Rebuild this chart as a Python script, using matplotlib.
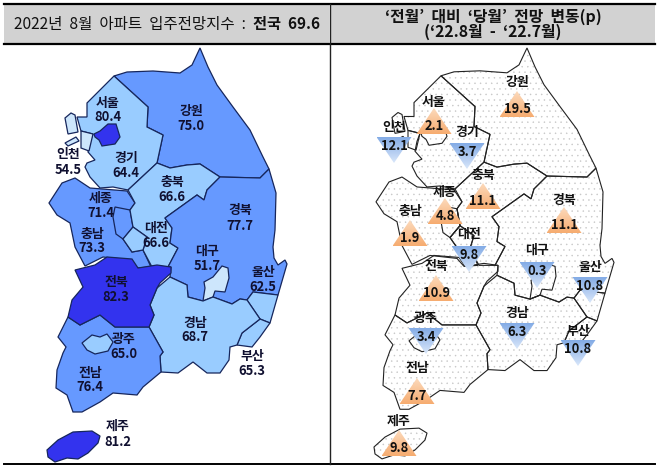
import numpy as np
import matplotlib
import matplotlib.pyplot as plt
from matplotlib.patches import Polygon, Rectangle

matplotlib.use("Agg")

plt.rcParams['font.family'] = ['Noto Sans CJK KR', 'DejaVu Sans']
plt.rcParams['hatch.linewidth'] = 0.3

# region outlines in image pixels
gangwon = [(114, 76), (127, 72), (153, 71), (180, 73), (192, 65), (200, 48), (208, 67), (217, 85), (233, 107),
           (250, 130), (263, 157), (269, 169), (260, 178), (220, 177), (200, 164), (187, 165), (170, 168),
           (157, 163), (163, 135), (147, 127), (148, 107)]
gyeonggi = [(114, 76), (148, 107), (147, 127), (163, 135), (157, 163), (128, 190), (113, 187), (100, 188), (90, 177),
            (85, 167), (87, 163), (95, 160), (88, 152), (90, 142), (93, 134), (81, 131), (77, 117), (87, 117),
            (87, 103)]
incheon = [(81, 131), (93, 134), (89, 151), (81, 148)]
island_a = [(65, 118), (71, 113), (75, 115), (78, 132), (68, 134)]
island_b = [(65, 143), (76, 137), (79, 141), (68, 146)]
seoul = [(94, 134), (100, 131), (108, 124), (116, 124), (120, 137), (115, 144), (102, 146), (99, 140), (95, 137)]
chungnam = [(49, 203), (62, 183), (75, 178), (90, 188), (127, 191), (135, 203), (130, 210), (133, 227), (123, 239),
            (132, 252), (143, 250), (151, 267), (137, 268), (130, 260), (103, 257), (85, 266), (75, 247),
            (70, 223), (57, 215)]
sejong = [(115, 207), (130, 210), (133, 227), (123, 239), (116, 234), (113, 217)]
chungbuk = [(157, 163), (170, 168), (187, 165), (200, 164), (220, 177), (207, 190), (204, 200), (197, 195),
            (165, 218), (172, 228), (170, 243), (178, 248), (168, 267), (152, 267), (143, 250), (147, 237),
            (133, 227), (130, 210), (135, 203), (128, 190)]
daejeon = [(123, 239), (133, 227), (147, 237), (143, 250), (132, 252)]
gyeongbuk = [(269, 169), (276, 193), (275, 230), (273, 247), (274, 258), (278, 265), (285, 260), (287, 264),
             (278, 295), (253, 292), (247, 300), (240, 299), (232, 304), (213, 297), (203, 301), (188, 297),
             (187, 285), (170, 277), (171, 267), (168, 267), (178, 248), (170, 243), (172, 228), (165, 218),
             (197, 195), (204, 200), (207, 190), (220, 177), (260, 178)]
daegu = [(204, 282), (213, 277), (222, 266), (228, 268), (229, 278), (225, 292), (215, 291), (213, 297), (203, 301),
         (205, 288)]
ulsan = [(247, 300), (253, 292), (278, 295), (270, 323), (260, 319)]
busan = [(260, 319), (270, 323), (260, 337), (252, 347), (237, 345), (242, 333)]
gyeongnam = [(170, 277), (187, 285), (188, 297), (203, 301), (213, 297), (232, 304), (240, 299), (247, 300),
             (260, 319), (242, 333), (237, 345), (230, 347), (229, 360), (220, 373), (207, 373), (193, 362),
             (178, 373), (161, 372), (160, 356), (163, 352), (149, 327), (154, 315), (150, 305), (157, 288)]
jeonbuk = [(75, 270), (95, 265), (107, 257), (132, 259), (138, 268), (157, 265), (171, 267), (171, 273), (160, 283),
           (157, 288), (150, 305), (154, 315), (149, 327), (140, 327), (115, 327), (100, 315), (80, 325), (68, 317),
           (72, 300), (83, 287)]
jeonnam = [(68, 317), (80, 325), (100, 315), (115, 327), (140, 327), (149, 327), (163, 352), (160, 356), (161, 372),
           (143, 387), (137, 395), (113, 393), (100, 402), (82, 412), (73, 412), (67, 395), (56, 388), (57, 370),
           (63, 353), (66, 347), (58, 337)]
gwangju = [(82, 343), (92, 335), (100, 337), (107, 334), (113, 342), (108, 351), (95, 354), (87, 350)]
jeju = [(47, 450), (58, 440), (73, 432), (92, 431), (100, 436), (98, 443), (88, 453), (78, 459), (67, 458), (55, 462),
        (48, 457)]

# drawing order matters, enclaves come after the region around them
map_shapes = [gangwon, gyeonggi, incheon, island_a, island_b, seoul, chungnam, sejong, chungbuk, daejeon, gyeongbuk,
              daegu, ulsan, busan, gyeongnam, jeonnam, gwangju, jeonbuk, jeju]
map_colors = ['#6699ff', '#99ccff', '#cde6fc', '#cde6fc', '#cde6fc', '#3333ee', '#6699ff', '#6699ff', '#99ccff',
              '#99ccff', '#6699ff', '#cde6fc', '#99ccff', '#99ccff', '#99ccff', '#6699ff', '#99ccff', '#3333ee',
              '#3333ee']

# left panel: index by region
index_names = ['서울', '강원', '인천', '경기', '충북', '세종', '경북', '충남', '대전', '대구', '울산', '전북', '경남', '광주',
               '부산', '전남', '제주']
index_values = ['80.4', '75.0', '54.5', '64.4', '66.6', '71.4', '77.7', '73.3', '66.6', '51.7', '62.5', '82.3', '68.7',
                '65.0', '65.3', '76.4', '81.2']
index_x = [108, 191, 68, 126, 172, 101, 240, 92, 156, 207, 263, 116, 195, 124, 252, 90, 118]
index_name_y = [103, 111, 154, 158, 182, 198, 210, 234, 228, 251, 272, 282, 323, 339, 356, 373, 426]
index_value_y = [117, 126, 170, 173, 197, 213, 226, 248, 243, 266, 287, 297, 337, 354, 371, 387, 442]

# right panel: change against last month, sign gives the triangle direction
change_names = ['강원', '서울', '인천', '경기', '충북', '세종', '경북', '충남', '대전', '대구', '울산', '전북', '경남', '광주',
                '부산', '전남', '제주']
change_values = [19.5, 2.1, -12.1, -3.7, 11.1, 4.8, 11.1, 1.9, -9.8, -0.3, -10.8, 10.9, -6.3, -3.4, -10.8, 7.7, 9.8]
change_x = [517, 434, 394, 467, 483, 445, 564, 410, 469, 537, 590, 436, 517, 426, 578, 417, 399]
change_base_y = [117, 134, 137, 143, 209, 224, 233, 246, 246, 262, 277, 301, 323, 328, 340, 404, 456]
change_name_y = [82, 102, 127, 132, 175, 192, 200, 211, 234, 250, 267, 266, 313, 318, 331, 368, 421]

TRI_W = 35
TRI_H = 26
LABEL_SIZE = 9.3
TEXT_COLOR = '#101030'


def shift_right(shape):
    # right map is the same outline, moved over and a bit squeezed
    return [(x + 327, 48 + (y - 48) * 0.9925) for x, y in shape]


def draw_triangle(ax, x, base_y, is_up):
    if is_up:
        pts = [(x - TRI_W / 2, base_y), (x + TRI_W / 2, base_y), (x, base_y - TRI_H)]
        shade = np.array([[252, 218, 188], [246, 172, 112]]) / 255
        top, bottom = base_y - TRI_H, base_y
    else:
        pts = [(x - TRI_W / 2, base_y), (x + TRI_W / 2, base_y), (x, base_y + TRI_H)]
        shade = np.array([[132, 172, 230], [216, 230, 250]]) / 255
        top, bottom = base_y, base_y + TRI_H
    tri = Polygon(pts, closed=True, fc='none', ec='none', zorder=3, transform=ax.transData)
    ax.add_patch(tri)
    steps = np.linspace(0, 1, 32)[:, None]
    grad = (shade[0] * (1 - steps) + shade[1] * steps)[:, None, :]
    im = ax.imshow(grad, extent=(x - TRI_W / 2, x + TRI_W / 2, bottom, top), aspect='auto', zorder=3,
                   interpolation='bilinear')
    im.set_clip_path(tri)


fig = plt.figure(figsize=(6.58, 4.69), dpi=100)
ax = fig.add_axes([0, 0, 1, 1])
ax.set_axis_off()

# header bands
ax.add_patch(Rectangle((4, 4), 325, 40, fc='#d2d2d2', ec='none', zorder=0))
ax.add_patch(Rectangle((330, 4), 325, 40, fc='#d2d2d2', ec='none', zorder=0))

# left map
for shape, color in zip(map_shapes, map_colors):
    ax.add_patch(Polygon(shape, closed=True, fc=color, ec='#16265c', lw=0.9, zorder=1))

for name, val, x, y1, y2 in zip(index_names, index_values, index_x, index_name_y, index_value_y):
    ax.text(x, y1, name, ha='center', va='center', fontsize=LABEL_SIZE, fontweight='bold', color=TEXT_COLOR, zorder=4)
    ax.text(x, y2, val, ha='center', va='center', fontsize=LABEL_SIZE, fontweight='bold', color=TEXT_COLOR, zorder=4)

# right map, dotted
for shape in map_shapes:
    pts = shift_right(shape)
    ax.add_patch(Polygon(pts, closed=True, fc='white', ec='#c6c6c6', hatch='...', lw=0, zorder=1))
for shape in map_shapes:
    ax.add_patch(Polygon(shift_right(shape), closed=True, fill=False, ec='#222222', lw=0.8, zorder=2))

for name, val, x, y, y1 in zip(change_names, change_values, change_x, change_base_y, change_name_y):
    draw_triangle(ax, x, y, val > 0)
    val_y = y - 8 if val > 0 else y + 9
    ax.text(x, val_y, '%.1f' % abs(val), ha='center', va='center', fontsize=LABEL_SIZE, fontweight='bold',
            color='#111111', zorder=4)
    ax.text(x, y1, name, ha='center', va='center', fontsize=LABEL_SIZE, fontweight='bold', color='#111111', zorder=4)

# frame lines
ax.plot([4, 655], [4, 4], color='black', lw=1.6, zorder=5)
ax.plot([4, 655], [44.5, 44.5], color='black', lw=1.6, zorder=5)
ax.plot([4, 655], [464.5, 464.5], color='black', lw=1.4, zorder=5)
ax.plot([329.5, 329.5], [4, 464.5], color='#222222', lw=1.0, zorder=5)

# headers
ax.text(14, 24, '2022년  8월  아파트  입주전망지수  :', ha='left', va='center', fontsize=11.2, color='#111111')
ax.text(320, 24, '전국  69.6', ha='right', va='center', fontsize=11, fontweight='bold', color='#111111')
ax.text(493, 17, '‘전월’  대비  ‘당월’  전망  변동(p)', ha='center', va='center', fontsize=11.4, fontweight='bold',
        color='#111111')
ax.text(493, 32, '(‘22.8월  -  ‘22.7월)', ha='center', va='center', fontsize=11.4, fontweight='bold', color='#111111')

ax.set_xlim(0, 658)
ax.set_ylim(469, 0)

fig.savefig("out.png", dpi=100)
plt.close(fig)
